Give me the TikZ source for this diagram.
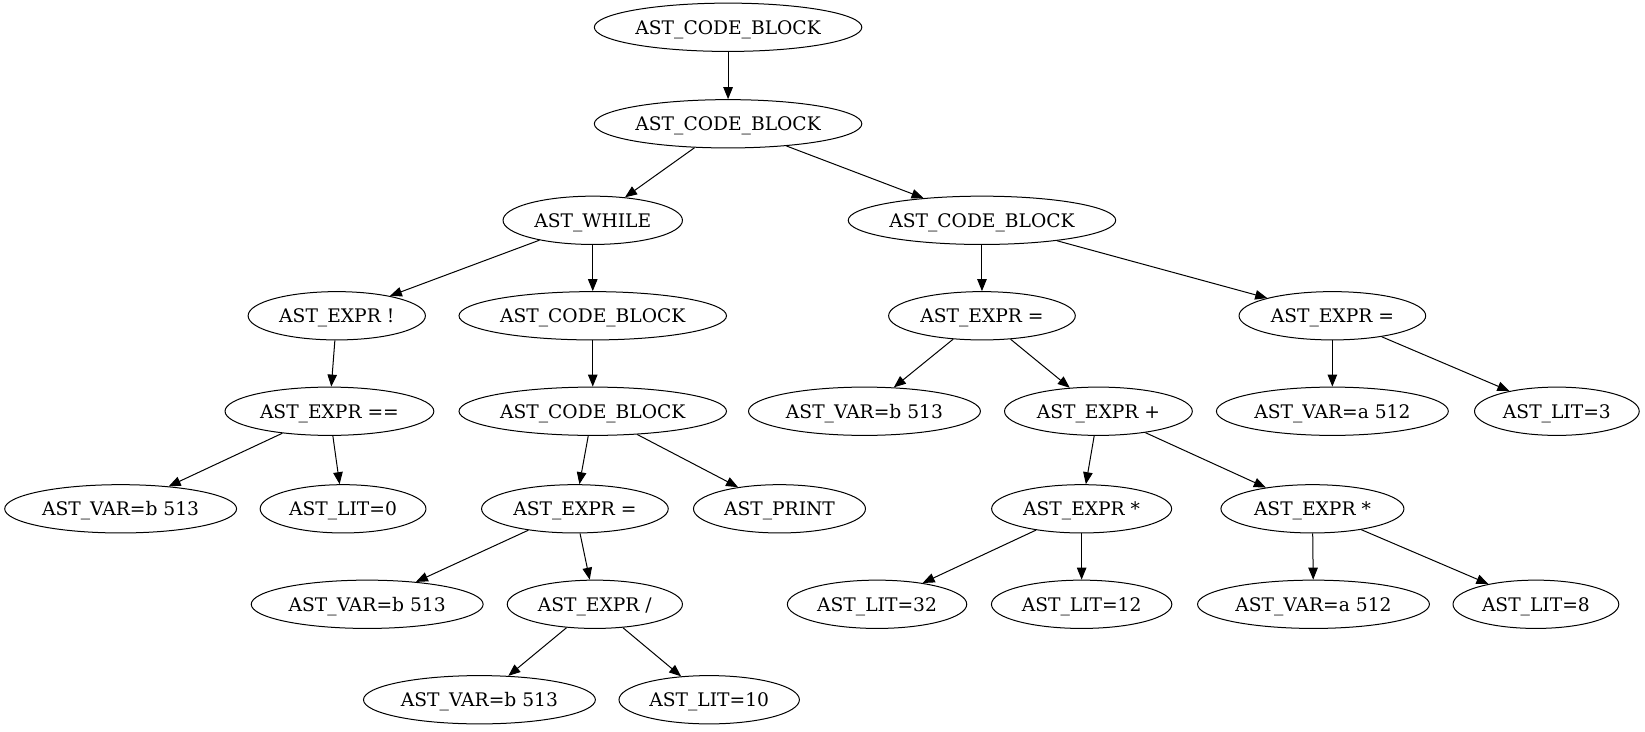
\documentclass[tikz,border=0pt]{standalone}
\usepackage{fontspec}
\setmainfont{DejaVu Serif}
\usetikzlibrary{arrows.meta,shapes.geometric}
\begin{document}
\begin{tikzpicture}[x=1.0491pt,y=-1.0491pt,
  astnode/.style={ellipse,draw,line width=1pt,inner sep=0pt,minimum height=48.3pt,text height=13.5pt,text depth=0pt,font=\fontsize{18.67}{22}\selectfont},
  conn/.style={line width=1pt,-{Triangle[length=12pt,width=9.5pt]}}]
\useasboundingbox (0,0) rectangle (1568,697);
\node[astnode,minimum width=267.5pt] (n1) at (694,26) {AST\_CODE\_BLOCK};
\node[astnode,minimum width=267.5pt] (n2) at (694,118) {AST\_CODE\_BLOCK};
\node[astnode,minimum width=179.4pt] (n3) at (565,210) {AST\_WHILE};
\node[astnode,minimum width=267.5pt] (n4) at (936,210) {AST\_CODE\_BLOCK};
\node[astnode,minimum width=177.3pt] (n5) at (321,301) {AST\_EXPR !};
\node[astnode,minimum width=267.5pt] (n6) at (565,301) {AST\_CODE\_BLOCK};
\node[astnode,minimum width=186.7pt] (n7) at (936,301) {AST\_EXPR =};
\node[astnode,minimum width=186.7pt] (n8) at (1270,301) {AST\_EXPR =};
\node[astnode,minimum width=208.8pt] (n9) at (314,392) {AST\_EXPR ==};
\node[astnode,minimum width=267.5pt] (n10) at (565,392) {AST\_CODE\_BLOCK};
\node[astnode,minimum width=231.9pt] (n11) at (824,392) {AST\_VAR=b 513};
\node[astnode,minimum width=187.8pt] (n12) at (1047,392) {AST\_EXPR +};
\node[astnode,minimum width=231.9pt] (n13) at (1270,392) {AST\_VAR=a 512};
\node[astnode,minimum width=164.7pt] (n14) at (1484,392) {AST\_LIT=3};
\node[astnode,minimum width=231.9pt] (n15) at (115,485) {AST\_VAR=b 513};
\node[astnode,minimum width=165.8pt] (n16) at (327,485) {AST\_LIT=0};
\node[astnode,minimum width=186.7pt] (n17) at (548,485) {AST\_EXPR =};
\node[astnode,minimum width=172pt] (n18) at (743,485) {AST\_PRINT};
\node[astnode,minimum width=180pt] (n19) at (1031,485) {AST\_EXPR *};
\node[astnode,minimum width=183pt] (n20) at (1251,485) {AST\_EXPR *};
\node[astnode,minimum width=231.9pt] (n21) at (350,576) {AST\_VAR=b 513};
\node[astnode,minimum width=175.2pt] (n22) at (567,576) {AST\_EXPR /};
\node[astnode,minimum width=179.4pt] (n23) at (836,576) {AST\_LIT=32};
\node[astnode,minimum width=180.4pt] (n24) at (1031,576) {AST\_LIT=12};
\node[astnode,minimum width=231.9pt] (n25) at (1252,576) {AST\_VAR=a 512};
\node[astnode,minimum width=165.8pt] (n26) at (1464,576) {AST\_LIT=8};
\node[astnode,minimum width=231.9pt] (n27) at (457,667) {AST\_VAR=b 513};
\node[astnode,minimum width=180.4pt] (n28) at (676,667) {AST\_LIT=10};
\draw[conn] (n1) -- (n2);
\draw[conn] (n2) -- (n3);
\draw[conn] (n2) -- (n4);
\draw[conn] (n3) -- (n5);
\draw[conn] (n3) -- (n6);
\draw[conn] (n4) -- (n7);
\draw[conn] (n4) -- (n8);
\draw[conn] (n5) -- (n9);
\draw[conn] (n6) -- (n10);
\draw[conn] (n7) -- (n11);
\draw[conn] (n7) -- (n12);
\draw[conn] (n8) -- (n13);
\draw[conn] (n8) -- (n14);
\draw[conn] (n9) -- (n15);
\draw[conn] (n9) -- (n16);
\draw[conn] (n10) -- (n17);
\draw[conn] (n10) -- (n18);
\draw[conn] (n12) -- (n19);
\draw[conn] (n12) -- (n20);
\draw[conn] (n17) -- (n21);
\draw[conn] (n17) -- (n22);
\draw[conn] (n19) -- (n23);
\draw[conn] (n19) -- (n24);
\draw[conn] (n20) -- (n25);
\draw[conn] (n20) -- (n26);
\draw[conn] (n22) -- (n27);
\draw[conn] (n22) -- (n28);
\end{tikzpicture}
\end{document}
